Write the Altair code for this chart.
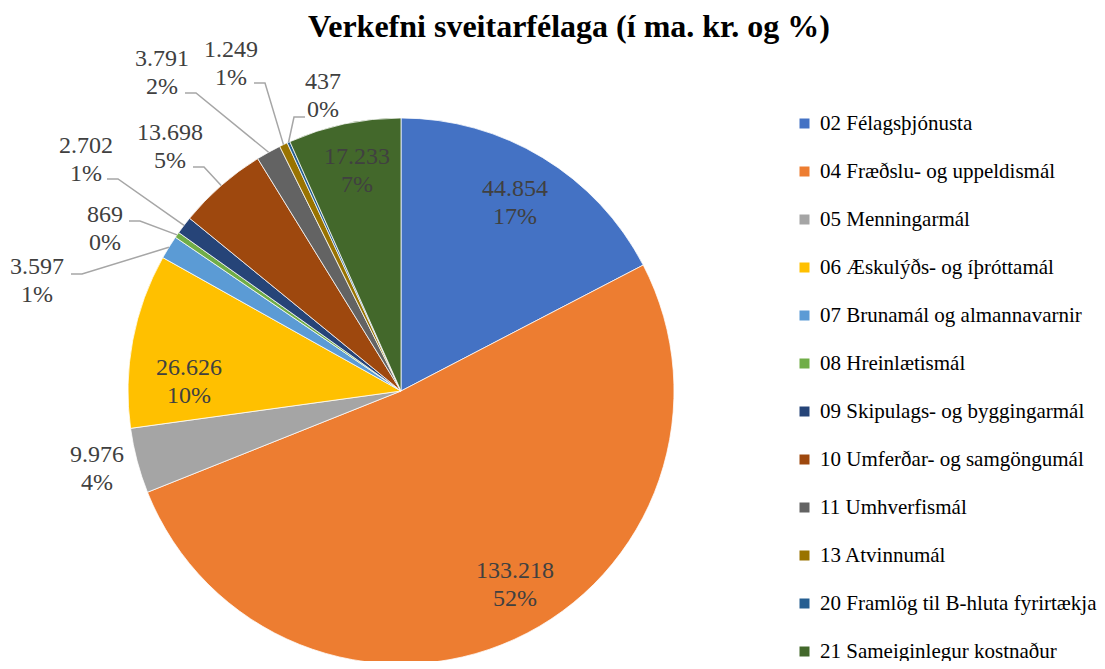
import math
import altair as alt
import pandas as pd

# ---------------- data ----------------
categories = [
    "02 Félagsþjónusta",
    "04 Fræðslu- og uppeldismál",
    "05 Menningarmál",
    "06 Æskulýðs- og íþróttamál",
    "07 Brunamál og almannavarnir",
    "08 Hreinlætismál",
    "09 Skipulags- og byggingarmál",
    "10 Umferðar- og samgöngumál",
    "11 Umhverfismál",
    "13 Atvinnumál",
    "20 Framlög til B-hluta fyrirtækja",
    "21 Sameiginlegur kostnaður",
]
values = [44854, 133218, 9976, 26626, 3597, 869, 2702, 13698, 3791, 1249, 437, 17233]
colors = ["#4472C4", "#ED7D31", "#A5A5A5", "#FFC000", "#5B9BD5", "#70AD47",
          "#264478", "#9E480E", "#636363", "#997300", "#255E91", "#43682B"]
TITLE = "Verkefni sveitarfélaga (í ma. kr. og %)"

# ---------------- layout (label placement, pixels) ----------------
OFF = 8                      # page margin
CX, CY, R = 401 - OFF, 391 - OFF, 273
label_dx = [114, 114, -304, -212, -364, -296, -315, -231, -239, -170, -78, -44]
label_dy = [-188, 194, 78, -9, -110, -162, -231, -244, -318, -327, -295, -220]
leader_x = [None, None, None, None, 71, 129, 107, 193, 185, 254, 305, None]
leader_y = [None, None, None, None, 274, 221, 179, 167, 93, 83, 117, None]
LEADER_RUN = 11
LINE_GAP = 14
FONT = "Liberation Serif, Times New Roman, serif"

# ---------------- derived ----------------
total = sum(values)
raw = [v / total * 100 for v in values]
pcts = [math.floor(r) for r in raw]
rest = 100 - sum(pcts)
order_rem = sorted(range(len(raw)), key=lambda i: raw[i] - pcts[i], reverse=True)
for i in order_rem[:rest]:
    pcts[i] += 1

df = pd.DataFrame({"cat": categories, "value": values, "idx": list(range(len(values)))})

def fmt(v):
    return f"{v:,}".replace(",", ".")

cum = 0
text_rows, line_rows = [], []
for i, v in enumerate(values):
    mid = (cum + v / 2) / total * 2 * math.pi
    cum += v
    bx, by = CX + label_dx[i], CY + label_dy[i]
    text_rows.append({"x": bx, "y": by - LINE_GAP, "t": fmt(v)})
    text_rows.append({"x": bx, "y": by + LINE_GAP, "t": f"{pcts[i]}%"})
    if leader_x[i] is not None:
        ex = CX + R * math.sin(mid)
        ey = CY - R * math.cos(mid)
        sx, sy = leader_x[i] - OFF, leader_y[i] - OFF
        direction = 1 if ex > sx else -1
        pts = [(sx, sy), (sx + direction * LEADER_RUN, sy), (ex, ey)]
        for k, (px, py) in enumerate(pts):
            line_rows.append({"cat": categories[i], "k": k, "x": px, "y": py})

tdf = pd.DataFrame(text_rows)
ldf = pd.DataFrame(line_rows)

pie = alt.Chart(df).mark_arc(outerRadius=R, stroke="white", strokeWidth=0.75).encode(
    theta=alt.Theta("value:Q", stack=True),
    order=alt.Order("idx:Q"),
    color=alt.Color(
        "cat:N",
        sort=categories,
        scale=alt.Scale(domain=categories, range=colors),
        legend=alt.Legend(
            orient="none", legendX=786, legendY=105, title=None,
            symbolType="square", symbolSize=100, symbolStrokeWidth=0,
            labelFont=FONT, labelFontSize=21, labelColor="black",
            rowPadding=26.0, labelOffset=5, padding=0, labelLimit=500,
        ),
    ),
    x=alt.value(CX),
    y=alt.value(CY),
)

leaders = alt.Chart(ldf).mark_line(color="#a6a6a6", strokeWidth=1.5).encode(
    x=alt.X("x:Q", scale=None, axis=None),
    y=alt.Y("y:Q", scale=None, axis=None),
    detail="cat:N",
    order="k:Q",
)

labels = alt.Chart(tdf).mark_text(font=FONT, fontSize=24, color="#404040",
                                  baseline="middle", align="center").encode(
    x=alt.X("x:Q", scale=None, axis=None),
    y=alt.Y("y:Q", scale=None, axis=None),
    text="t:N",
)

title = alt.Chart(pd.DataFrame({"t": [TITLE]})).mark_text(
    font=FONT, fontSize=32, fontWeight="bold", color="black",
    baseline="alphabetic", align="center",
).encode(x=alt.value(569 - OFF), y=alt.value(37 - OFF), text="t:N")

chart = alt.layer(pie, leaders, labels, title).properties(
    width=1089, height=653, padding=0,
    autosize=alt.AutoSizeParams(type="none"),
).configure_view(stroke=None)

chart.save("out.html", embed_options={"renderer": "svg", "actions": False})
